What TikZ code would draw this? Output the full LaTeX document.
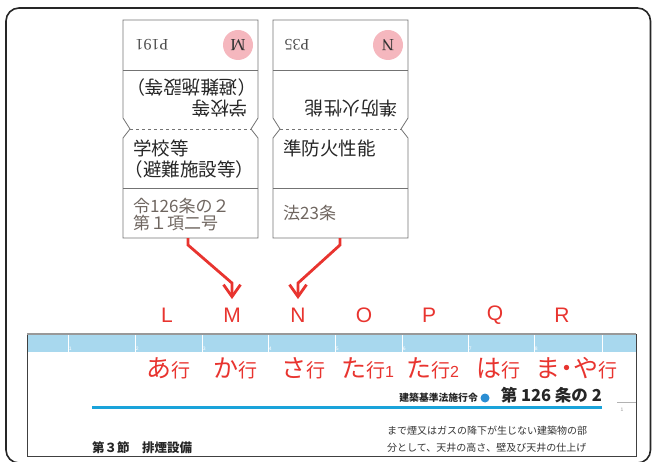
\documentclass[tikz,border=0pt]{standalone}
\usepackage{fontspec}
\usetikzlibrary{arrows.meta,calc}
\newfontfamily\jp{Noto Sans CJK JP}
\newfontfamily\latsans{Liberation Sans}
\newfontfamily\latserif{Liberation Serif}
\definecolor{arrowred}{HTML}{E8342F}
\definecolor{dotpink}{HTML}{F5B7BE}
\definecolor{bandblue}{HTML}{A8D8EE}
\definecolor{ruleblue}{HTML}{1AA3DA}
\definecolor{dotblue}{HTML}{2B8ED3}
\definecolor{refgray}{HTML}{6F6660}
\newcommand{\gyo}[2]{{\fontsize{25}{25}\selectfont #1}{\fontsize{19}{19}\selectfont 行}{\latsans\fontsize{16}{16}\selectfont #2}}
\newcommand{\lpar}{\makebox[0.55em][r]{（}}
\newcommand{\rpar}{\makebox[0.55em][l]{）}}
\tikzset{
  tabline/.style={draw=black!55, line width=0.8pt},
  tabtext/.style={anchor=base west, inner sep=0pt, font=\jp\fontsize{18.5}{18.5}\selectfont, text=black!85},
  reftext/.style={anchor=base west, inner sep=0pt, font=\jp\fontsize{17}{17}\selectfont, text=refgray},
  pagetext/.style={rotate=180, inner sep=0pt, font=\latserif\fontsize{16}{16}\selectfont, text=black!70},
  tabdot/.style={circle, fill=dotpink, minimum size=30pt, inner sep=0pt, rotate=180, font=\latserif\fontsize{17}{17}\selectfont, text=black!80},
  redletter/.style={inner sep=0pt, font=\latsans\fontsize{21}{21}\selectfont, text=arrowred},
  redarrow/.style={draw=arrowred, line width=2.8pt, -{Straight Barb[length=12pt,width=17pt]}},
  kana/.style={anchor=base west, inner sep=0pt, font=\jp, text=arrowred}
}
\begin{document}
\begin{tikzpicture}[x=1pt,y=-1pt]
\useasboundingbox (0,0) rectangle (652,462);

%%%%%% Frame %%%%%%%
\draw[line width=1.6pt, black!85, rounded corners=13pt] (6,8) rectangle (650.5,463);

%%%%%% Tab M %%%%%%%
\draw[tabline] (123,20) -- (258,20) -- (258,118) -- (251,129) -- (258,138) -- (258,238)
  -- (123,238) -- (123,138) -- (130,129) -- (123,118) -- cycle;
\draw[tabline] (123,70.5) -- (258,70.5);
\draw[tabline] (123,188) -- (258,188);
\draw[tabline, dashed] (130,129) -- (251,129);

\node (Mpage) at (152,45) [pagetext] {P191};
\node (Mdot) at (238,45) [tabdot] {M};
\node (Mup1) at (248,102) [tabtext, rotate=180] {学校等};
\node (Mup2) at (248,81) [tabtext, rotate=180] {\lpar 避難施設等\rpar};
\node (Mname1) at (133,156) [tabtext] {学校等};
\node (Mname2) at (133,177) [tabtext] {\lpar 避難施設等\rpar};
\node (Mref1) at (133,212.5) [reftext] {令126条の２};
\node (Mref2) at (133,229.5) [reftext] {第１項二号};
\coordinate (Mfoot) at (188,238);

%%%%%% Tab N %%%%%%%
\draw[tabline] (123+150,20) -- (258+150,20) -- (258+150,118) -- (251+150,129) -- (258+150,138) -- (258+150,238)
  -- (123+150,238) -- (123+150,138) -- (130+150,129) -- (123+150,118) -- cycle;
\draw[tabline] (123+150,70.5) -- (258+150,70.5);
\draw[tabline] (123+150,188) -- (258+150,188);
\draw[tabline, dashed] (130+150,129) -- (251+150,129);

\node (Npage) at (297,45) [pagetext] {P35};
\node (Ndot) at (388,45) [tabdot] {N};
\node (Nup1) at (248+150,102) [tabtext, rotate=180] {準防火性能};
\node (Nname1) at (133+150,156) [tabtext] {準防火性能};
\node (Nref1) at (133+150,219.5) [reftext] {法23条};
\coordinate (Nfoot) at (340,238);

%%%%%% Letters %%%%%%%
\node (L) at (167,315.5) [redletter] {L};
\node (M) at (232,315.5) [redletter] {M};
\node (N) at (298,315.5) [redletter] {N};
\node (O) at (364,315.5) [redletter] {O};
\node (P) at (429,315.5) [redletter] {P};
\node (Q) at (495,315.5) [redletter] {Q};
\node (R) at (562,315.5) [redletter] {R};

\draw[redarrow] (Mfoot) -- ++(0,7) -- ($(M.north)+(0,-25)$) -- ($(M.north)+(0,-9)$);
\draw[redarrow] (Nfoot) -- ++(0,7) -- ($(N.north)+(0,-25)$) -- ($(N.north)+(0,-9)$);

%%%%%% Page strip %%%%%%%
\fill[bandblue] (27,334) rectangle (636,352);
\foreach \x/\n in {68/1,135/2,202/3,268/4,335/5,402/6,468/7,534/8} {
  \draw[white, line width=0.8pt] (\x,334) -- (\x,352);
  \node (col\n) at (\x,351.5) [anchor=south west, inner sep=0.6pt, font=\latsans\fontsize{5}{5}\selectfont, text=white] {\n};
}
\draw[white, line width=0.8pt] (602,334) -- (602,352);
\draw[black!75, line width=1pt] (27,334) rectangle (636,456);
\draw[black!40, line width=1.2pt] (27,334) -- (636,334);

\node (kA) at (146,377) [kana] {\gyo{あ}{}};
\node (kKa) at (213,377) [kana] {\gyo{か}{}};
\node (kSa) at (281,377) [kana] {\gyo{さ}{}};
\node (kTa1) at (341,377) [kana] {\gyo{た}{1}};
\node (kTa2) at (406,377) [kana] {\gyo{た}{2}};
\node (kHa) at (476,377) [kana] {\gyo{は}{}};
\node (kMa) at (535,377) [kana] {\gyo{ま\hspace{-6pt}・\hspace{-6pt}や}{}};

\draw[ruleblue, line width=3pt] (92,407) -- (602,407);
\node (law) at (478,401.5) [anchor=base east, inner sep=0pt, font=\jp\bfseries\fontsize{9.8}{10}\selectfont, text=black!85] {建築基準法施行令};
\node (lawdot) at (485,398) [circle, fill=dotblue, minimum size=9pt, inner sep=0pt] {};
\node (article) at (602,401.5) [anchor=base east, inner sep=0pt, font=\jp\bfseries\fontsize{16.5}{17}\selectfont, text=black!85] {第 126 条の 2};
\draw[black!30, line width=0.6pt] (617,402) -- (636,402);
\node (pageno) at (622,410) [inner sep=0pt, font=\latsans\fontsize{5}{5}\selectfont, text=black!40] {1};

\node (sect) at (92,452) [anchor=base west, inner sep=0pt, font=\jp\bfseries\fontsize{12.5}{13}\selectfont, text=black!85] {第３節　排煙設備};
\node (body1) at (387,434) [anchor=base west, inner sep=0pt, font=\jp\fontsize{10}{10}\selectfont, text=black!80] {まで煙又はガスの降下が生じない建築物の部};
\node (body2) at (387,451) [anchor=base west, inner sep=0pt, font=\jp\fontsize{10}{10}\selectfont, text=black!80] {分として、天井の高さ、壁及び天井の仕上げ};

\end{tikzpicture}
\end{document}
